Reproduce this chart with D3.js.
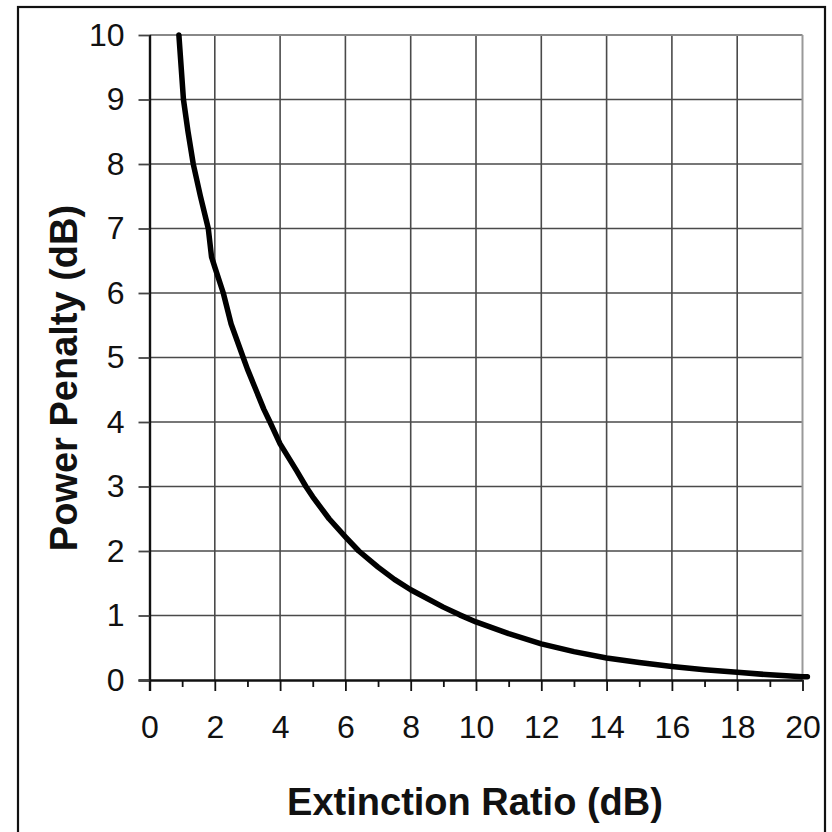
<!DOCTYPE html>
<html>
<head>
<meta charset="utf-8">
<script src="https://cdn.jsdelivr.net/npm/d3@7"></script>
<style>
  body { margin: 0; background: #fff; }
  svg { display: block; font-family: "Liberation Sans", Arial, sans-serif; }
</style>
</head>
<body>
<div id="chart"></div>
<script>
// Extinction ratio (dB) and matching power penalty (dB).
const extinctionRatio = [0.9, 1.04, 1.18, 1.34, 1.56, 1.8, 1.9, 2.0, 2.26, 2.5, 2.87, 3.0, 3.5, 3.69, 4.0, 4.5, 4.79, 5.0, 5.5, 6.0, 6.41, 7.0, 7.5, 8.0, 9.0, 9.5, 10.0, 11.0, 12.0, 13.0, 14.0, 15.0, 16.0, 17.0, 18.0, 19.0, 20.0, 20.15];
const powerPenalty    = [10.0, 9.0, 8.5, 8.0, 7.5, 7.0, 6.56, 6.4, 6.0, 5.52, 5.0, 4.82, 4.2, 4.0, 3.66, 3.25, 3.0, 2.84, 2.5, 2.22, 2.0, 1.75, 1.56, 1.40, 1.13, 1.01, 0.9, 0.72, 0.56, 0.44, 0.34, 0.27, 0.21, 0.16, 0.12, 0.08, 0.05, 0.05];

const xTicks = [0, 2, 4, 6, 8, 10, 12, 14, 16, 18, 20];
const xMinorTicks = [1, 3, 5, 7, 9, 11, 13, 15, 17, 19];
const yTicks = [0, 1, 2, 3, 4, 5, 6, 7, 8, 9, 10];

const W = 832, H = 832;
const margin = { top: 35, right: 30, bottom: 152, left: 149.5 };
const width = 802.5 - margin.left,
      height = 680 - margin.top;

const svg = d3.select('#chart')
              .append('svg')
              .attr('width', W)
              .attr('height', H);

// outer frame
svg.append('rect')
   .attr('x', 18)
   .attr('y', 7)
   .attr('width', 807)
   .attr('height', 840)
   .attr('fill', 'none')
   .attr('stroke', '#111')
   .attr('stroke-width', 2.2);

const g = svg.append('g')
             .attr('transform', `translate(${margin.left},${margin.top})`);

const x = d3.scaleLinear().domain([0, 20]).range([0, width]);
const y = d3.scaleLinear().domain([0, 10]).range([height, 0]);

// grid
g.append('g')
 .selectAll('line')
 .data(xTicks.filter(d => d > 0 && d < 20))
 .enter()
 .append('line')
 .attr('x1', d => x(d)).attr('x2', d => x(d))
 .attr('y1', 0).attr('y2', height)
 .attr('stroke', '#4a4a4a')
 .attr('stroke-width', 1.6);

g.append('g')
 .selectAll('line')
 .data(yTicks.filter(d => d > 0 && d < 10))
 .enter()
 .append('line')
 .attr('x1', 0).attr('x2', width)
 .attr('y1', d => y(d)).attr('y2', d => y(d))
 .attr('stroke', '#4a4a4a')
 .attr('stroke-width', 1.6);

// plot area top and right edges
g.append('line')
 .attr('x1', 0).attr('x2', width)
 .attr('y1', y(10)).attr('y2', y(10))
 .attr('stroke', '#888').attr('stroke-width', 2);
g.append('line')
 .attr('x1', x(20)).attr('x2', x(20))
 .attr('y1', 0).attr('y2', height)
 .attr('stroke', '#999').attr('stroke-width', 2);

// minor x ticks
g.append('g')
 .attr('transform', `translate(0,${height})`)
 .call(d3.axisBottom(x).tickValues(xMinorTicks).tickSize(7).tickFormat(''))
 .call(a => a.select('.domain').remove())
 .selectAll('line')
 .attr('stroke', '#111')
 .attr('stroke-width', 1.8);

// x axis
const xAxis = g.append('g')
               .attr('transform', `translate(0,${height})`)
               .call(d3.axisBottom(x).tickValues(xTicks).tickSize(11).tickPadding(24).tickSizeOuter(0));
xAxis.select('.domain').attr('stroke', '#111').attr('stroke-width', 2.4)
     .attr('d', `M-11,0.5H${width}`);
xAxis.selectAll('line').attr('stroke', '#111').attr('stroke-width', 1.8);
xAxis.selectAll('text')
     .attr('font-size', 32)
     .attr('fill', '#111')
     .attr('font-family', '"Liberation Sans", Arial, sans-serif');

// y axis
const yAxis = g.append('g')
               .call(d3.axisLeft(y).tickValues(yTicks).tickSize(11).tickPadding(14).tickSizeOuter(0));
yAxis.select('.domain').attr('stroke', '#111').attr('stroke-width', 2.4)
     .attr('d', `M0.5,0V${height + 11}`);
yAxis.selectAll('line').attr('stroke', '#444').attr('stroke-width', 1.8);
yAxis.selectAll('text')
     .attr('font-size', 32)
     .attr('fill', '#111')
     .attr('font-family', '"Liberation Sans", Arial, sans-serif');

// curve
const points = extinctionRatio.map((d, i) => [d, powerPenalty[i]]);
g.append('path')
 .datum(points)
 .attr('fill', 'none')
 .attr('stroke', '#000')
 .attr('stroke-width', 5.5)
 .attr('stroke-linejoin', 'round')
 .attr('stroke-linecap', 'round')
 .attr('d', d3.line()
              .x(d => x(d[0]))
              .y(d => y(d[1])));

// axis labels
svg.append('text')
   .attr('x', 475)
   .attr('y', 815)
   .attr('text-anchor', 'middle')
   .attr('font-size', 38)
   .attr('font-weight', 'bold')
   .attr('fill', '#111')
   .text('Extinction Ratio (dB)');

svg.append('text')
   .attr('transform', 'translate(77,378) rotate(-90)')
   .attr('text-anchor', 'middle')
   .attr('font-size', 38)
   .attr('font-weight', 'bold')
   .attr('fill', '#111')
   .text('Power Penalty (dB)');
</script>
</body>
</html>
